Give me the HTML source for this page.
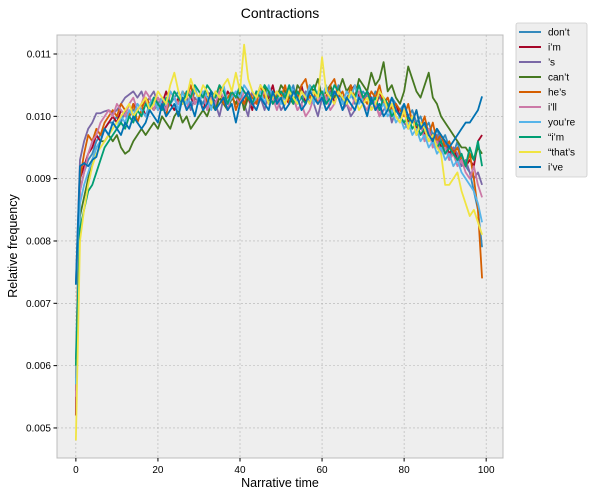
<!DOCTYPE html>
<html><head><meta charset="utf-8">
<style>
html,body{margin:0;padding:0;background:#fff;overflow:hidden;}
svg{display:block;font-family:"Liberation Sans","DejaVu Sans",sans-serif;overflow:hidden;}
</style></head>
<body>
<svg id="chart" width="592" height="496" viewBox="0 0 592 496" xmlns="http://www.w3.org/2000/svg">
<defs><clipPath id="pc"><rect x="57" y="35" width="446" height="423"/></clipPath></defs>
<rect x="57" y="35" width="446" height="423" fill="#eeeeee" stroke="#bcbcbc" stroke-width="1"/>
<g id="grid"></g>
<g id="series" clip-path="url(#pc)"></g>
<g id="axes"></g>
<text x="280" y="18" text-anchor="middle" font-size="14" fill="#000">Contractions</text>
<text x="280" y="487" text-anchor="middle" font-size="12.5" fill="#000">Narrative time</text>
<text transform="translate(17,246) rotate(-90)" text-anchor="middle" font-size="12.5" fill="#000">Relative frequency</text>
<g id="legend">
<rect x="516" y="23" width="71" height="154" fill="#eeeeee" stroke="#cccccc" stroke-width="0.8" rx="2"/>
</g>
</svg>
<script>
const names=["don\u2019t","i\u2019m","\u2019s","can\u2019t","he\u2019s","i\u2019ll","you\u2019re","\u201ci\u2019m","\u201cthat\u2019s","i\u2019ve"];
const colors=["#348ABD","#A60628","#7A68A6","#467821","#D55E00","#CC79A7","#56B4E9","#009E73","#F0E442","#0072B2"];
const xTicks=[0,20,40,60,80,100];
const yTicks=[0.005,0.006,0.007,0.008,0.009,0.010,0.011];
const yTickLabels=["0.005","0.006","0.007","0.008","0.009","0.010","0.011"];
const sDont=[61,88,91,93,94,96,97,98,99,99,100,99,101,100,101,102,101,100,102,101,102,103,101,102,103,104,102,103,102,104,103,102,104,103,102,104,103,102,103,104,102,103,104,102,103,105,103,102,104,103,102,104,103,105,102,103,104,102,103,104,103,102,104,103,105,102,103,104,102,103,104,103,102,104,103,102,101,103,102,101,102,100,101,99,100,98,99,97,98,96,97,95,94,96,93,92,91,88,85,79];
const sIm=[52,90,92,94,95,97,96,98,99,100,99,101,100,100,102,101,102,100,101,103,101,102,104,102,101,103,102,104,103,102,103,101,103,104,102,103,102,104,103,102,104,102,103,101,104,103,102,103,105,102,104,103,102,104,103,105,102,104,103,102,104,103,105,102,104,103,102,104,105,103,102,104,103,101,104,102,103,101,102,100,101,99,100,98,99,97,98,96,97,95,96,94,95,93,93,92,93,92,96,97];
const sS=[73,93,96,98,99,100.5,100.5,100.8,101,100.5,101,102,103,103.5,104,103,104,102,103,104,102,103,101,104,103,102,104,103,101,103,102,104,101,103,102,100,103,102,104,101,103,102,100,104,102,103,101,104,102,103,101,102,104,103,101,102,104,103,102,100,103,101,102,104,103,101,102,100,101,103,102,104,101,102,100,101,102,99,101,100,99,98,100,97,99,96,98,95,97,94,96,93,95,94,92,93,91,90,91,89];
const sCant=[56,84,87,90,93,95,96,96,97,96,97,95,94,94.5,96,97,98,97,98,99,98,100,99,98,100,101,99,100,98,99,100,101,100,102,101,103,102,101,103,102,104,101,103,102,104,103,105,102,104,103,105,104,103,102,105,104,103,105,104,106,103,104,105,103,104,106,104,105,103,106,105,104,107,105,106,108.7,104,105,103,102,104,108,106,104,103,105,107,103,102,100,99,98,97,96,95,95,94,93,95,94];
const sHes=[58,90,94,97,96,98,97,99,100,101,100,102,101,100,102,99,101,103,102,101,103,102,100,104,103,102,104,103,105,102,103,104,102,104,103,105,102,103,104,101,103,102,104,103,102,105,103,104,102,104,103,105,102,104,103,105,106,103,104,102,104,103,105,106,103,104,102,105,103,104,103,102,104,103,105,102,103,101,102,101,100,102,99,101,98,100,97,99,96,97,95,96,94,95,93,92,94,90,85,74];
const sIll=[55,88,91,94,96,97,99,100,101,100,102,101,100,102,103,101,102,104,103,101,103,102,101,104,103,102,103,101,104,102,103,104,101,103,102,104,103,101,104,103,102,104,103,102,101,103,104,102,103,101,103,102,104,103,101,102,100,101,103,102,104,103,101,102,104,103,102,101,103,104,102,101,103,102,100,103,101,102,100,99,101,98,100,97,99,96,98,95,96,94,95,93,94,92,93,91,90,92,89,87];
const sYoure=[57,86,89,91,93,95,96,98,97,99,98,100,99,101,100,102,101,100,102,103,101,103,102,104,103,101,104,102,103,105,102,104,103,101,104,103,105,102,103,104,103,105,104,102,103,104,102,105,103,104,102,103,105,104,102,104,103,105,102,104,103,105,102,104,103,102,104,103,105,102,103,104,102,103,101,102,100,101,99,100,98,99,97,98,96,97,95,96,94,95,93,94,92,93,91,90,89,88,86,83];
const sQIm=[60,82,85,88,89,91,93,95,96,97,98,99,98,100,99,101,100,102,101,103,102,101,103,102,104,103,102,104,103,105,104,103,105,104,103,105,104,102,104,103,105,104,103,102,104,103,105,104,102,103,104,103,105,102,104,103,102,104,105,103,104,102,103,105,104,103,102,104,103,105,103,104,102,103,101,103,102,100,101,100,99,100,98,99,97,98,96,97,95,96,94,95,94,93,94,92,95,93,96,92];
const sQThats=[48,80,85,89,92,94,95,96,97,98,99,100,101,102,100,101,102,103,101,102,104,103,102,105,107,104,102,103,106,104,103,105,104,102,104,103,105,106,104,107,104,111.5,106,104,103,105,104,102,103,104,103,102,104,103,102,104,103,102,104,103,109.5,104,103,102,104,103,102,104,103,101,102,103,101,102,104,103,101,102,100,99,101,98,100,97,99,98,96,97,95,94,89,89,90,91,88,86,84,85,83,81];
const sIve=[73,92,92.5,92,93,93.5,96,98,97,99,98,97,99,98,100,99,98,99,101,100,99,102,100,101,102,100,103,101,102,100,103,101,102,104,101,102,103,101,102,99,102,103,104,102,101,103,102,101,104,102,103,101,102,104,103,101,102,104,103,102,103,101,102,104,103,101,103,102,101,103,102,100,103,101,102,100,101,103,101,100,102,100,99,101,98,99,97,96,98,97,96,95,96,97,98,99,99,100,101,103.2];
const seriesValues=[sDont,sIm,sS,sCant,sHes,sIll,sYoure,sQIm,sQThats,sIve];
const UNIT=1e-4;
const NS="http://www.w3.org/2000/svg";
const X0=57,X1=503,Y0=35,Y1=458;
const xMin=-4.6,xMax=104.1,yMin=0.004518,yMax=0.011305;
function xs(v){return X0+(v-xMin)/(xMax-xMin)*(X1-X0);}
function ys(v){return Y1-(v-yMin)/(yMax-yMin)*(Y1-Y0);}
function mk(t,a){const e=document.createElementNS(NS,t);for(const k in a)e.setAttribute(k,a[k]);return e;}
const grid=document.getElementById('grid'),axes=document.getElementById('axes');
xTicks.forEach(t=>{
  const x=xs(t);
  const g=mk('line',{x1:x,x2:x,y1:Y0,y2:Y1,stroke:'#b2b2b2','stroke-width':0.6,'stroke-dasharray':'2,2'});
  
  
  grid.appendChild(g);
  const tk=mk('line',{x1:x,x2:x,y1:Y1,y2:Y1+3.5,stroke:'#000','stroke-width':1});
  
  
  axes.appendChild(tk);
  const tx=mk('text',{x:x,y:Y1+15,'text-anchor':'middle','font-size':10,fill:'#000'});
  tx.textContent=t;
  
  
  axes.appendChild(tx);
});
yTicks.forEach((t,i)=>{
  const y=ys(t);
  const g=mk('line',{x1:X0,x2:X1,y1:y,y2:y,stroke:'#b2b2b2','stroke-width':0.6,'stroke-dasharray':'2,2'});
  
  
  grid.appendChild(g);
  const tk=mk('line',{x1:X0-3.5,x2:X0,y1:y,y2:y,stroke:'#000','stroke-width':1});
  
  
  axes.appendChild(tk);
  const tx=mk('text',{x:X0-6,y:y+3.5,'text-anchor':'end','font-size':10,fill:'#000'});
  tx.textContent=yTickLabels[i];
  
  
  axes.appendChild(tx);
});
const sg=document.getElementById('series');
seriesValues.forEach((arr,si)=>{
  const pts=arr.map((v,i)=>xs(i).toFixed(2)+','+ys(v*UNIT).toFixed(2)).join(' ');
  const pl=mk('polyline',{points:pts,fill:'none',stroke:colors[si],'stroke-width':1.8,'stroke-linejoin':'round'});
  
  
  sg.appendChild(pl);
});
const lg=document.getElementById('legend');
names.forEach((n,i)=>{
  const y=32+i*15;
  const ln=mk('line',{x1:519,x2:541,y1:y,y2:y,stroke:colors[i],'stroke-width':2});
  
  
  lg.appendChild(ln);
  const tx=mk('text',{x:548,y:y+3.5,'font-size':10,fill:'#000'});
  tx.textContent=n;
  
  
  lg.appendChild(tx);
});
</script>
</body></html>
